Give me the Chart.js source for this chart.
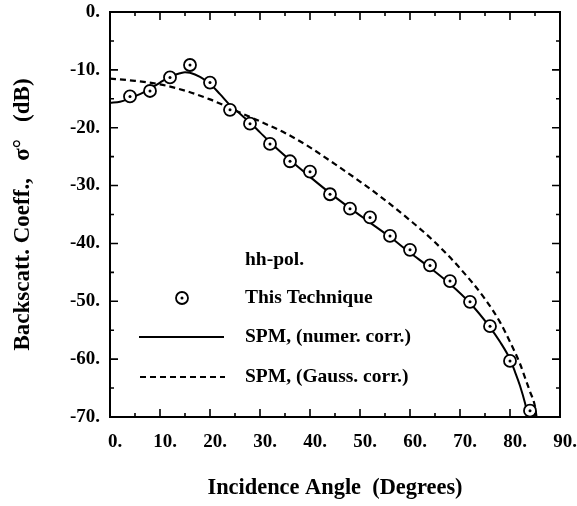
<!DOCTYPE html>
<html>
<head>
<meta charset="utf-8">
<script src="https://cdn.jsdelivr.net/npm/chart.js@4.4.0/dist/chart.umd.min.js"></script>
<style>
  html, body { margin: 0; padding: 0; background: #fff; }
</style>
</head>
<body>
<canvas id="backscatterChart" width="577" height="506"></canvas>
<script>
// values (hh-pol.)
const techAngles = [4, 8, 12, 16, 20, 24, 28, 32, 36, 40, 44, 48, 52, 56, 60, 64, 68, 72, 76, 80, 84];
const techValues = [-14.6, -13.65, -11.3, -9.16, -12.2, -16.9, -19.3, -22.8, -25.8, -27.6, -31.5,
                    -34.0, -35.5, -38.7, -41.1, -43.8, -46.5, -50.1, -54.3, -60.3, -68.9];

const numerAngles = [0, 2, 4, 6, 8, 10, 12, 14, 15, 16, 18, 20, 22, 24, 26, 28, 30, 32, 36, 40,
                     44, 48, 52, 56, 60, 64, 68, 72, 76, 78, 80, 81, 82, 83, 83.6];
const numerValues = [-15.7, -15.5, -14.9, -14.2, -13.3, -12.2, -11.2, -10.6, -10.4, -10.5, -11.2,
                     -12.4, -14.2, -16.1, -17.6, -19.1, -20.8, -22.5, -25.6, -28.5, -31.3, -33.9,
                     -36.4, -38.9, -41.6, -44.2, -47.0, -50.3, -54.5, -57.0, -60.0, -62.2, -64.6,
                     -67.6, -70];

const gaussAngles = [0, 5, 10, 15, 20, 25, 30, 35, 40, 45, 50, 55, 60, 65, 70, 75, 78, 80, 82,
                     83, 84, 85, 85.3];
const gaussValues = [-11.5, -11.9, -12.5, -13.6, -15.1, -17.0, -18.9, -20.9, -23.4, -26.3, -29.3,
                     -32.5, -36.0, -39.8, -44.3, -49.6, -53.6, -57.0, -60.8, -63.2, -65.6, -68.2, -70];

const xMin = 0, xMax = 90, xStep = 10;
const yMin = -70, yMax = 0, yStep = 10;
const minorStep = 5;

const legendLabels = ['hh-pol.', 'This Technique', 'SPM, (numer. corr.)', 'SPM, (Gauss. corr.)'];

const toPoints = (xs, ys) => xs.map((v, i) => ({ x: v, y: ys[i] }));

const serif = '"Liberation Serif", "Times New Roman", serif';
Chart.defaults.font.family = serif;
Chart.defaults.color = '#000';

// box + inward ticks on all four sides
const frameTicks = {
  id: 'frameTicks',
  afterDraw(chart) {
    const { ctx, chartArea: a, scales: { x, y } } = chart;
    ctx.save();
    ctx.strokeStyle = '#000';
    ctx.lineWidth = 2;
    ctx.strokeRect(a.left, a.top, a.right - a.left, a.bottom - a.top);
    ctx.lineWidth = 1.6;
    ctx.beginPath();
    for (let v = xMin; v <= xMax; v += minorStep) {
      const px = x.getPixelForValue(v);
      const len = v % xStep === 0 ? 8 : 4;
      ctx.moveTo(px, a.bottom); ctx.lineTo(px, a.bottom - len);
      ctx.moveTo(px, a.top); ctx.lineTo(px, a.top + len);
    }
    for (let v = yMin; v <= yMax; v += minorStep) {
      const py = y.getPixelForValue(v);
      const len = v % yStep === 0 ? 8 : 4;
      ctx.moveTo(a.left, py); ctx.lineTo(a.left + len, py);
      ctx.moveTo(a.right, py); ctx.lineTo(a.right - len, py);
    }
    ctx.stroke();
    ctx.restore();
  }
};

// legend written inside the plot, as in the figure
const innerLegend = {
  id: 'innerLegend',
  afterDraw(chart) {
    const ctx = chart.ctx;
    const textX = 245;
    const rows = [260, 298, 337, 377];
    ctx.save();
    ctx.fillStyle = '#000';
    ctx.strokeStyle = '#000';
    ctx.font = 'bold 19.5px ' + serif;
    ctx.textBaseline = 'middle';
    ctx.textAlign = 'left';
    legendLabels.forEach((t, i) => ctx.fillText(t, textX, rows[i]));

    // circle marker
    ctx.lineWidth = 1.8;
    ctx.beginPath();
    ctx.arc(182, rows[1], 6, 0, Math.PI * 2);
    ctx.stroke();
    ctx.beginPath();
    ctx.arc(182, rows[1], 1.5, 0, Math.PI * 2);
    ctx.fill();

    // solid
    ctx.lineWidth = 2;
    ctx.beginPath();
    ctx.moveTo(139, rows[2]); ctx.lineTo(224, rows[2]);
    ctx.stroke();
    // dashed
    ctx.setLineDash([6, 4]);
    ctx.beginPath();
    ctx.moveTo(140, rows[3]); ctx.lineTo(225, rows[3]);
    ctx.stroke();
    ctx.restore();
  }
};

const ctx = document.getElementById('backscatterChart').getContext('2d');
const backscatterChart = new Chart(ctx, {
  type: 'scatter',
  data: {
    datasets: [
      {
        label: 'This Technique (dot)',
        data: toPoints(techAngles, techValues),
        pointRadius: 1.5,
        pointBackgroundColor: '#000',
        pointBorderWidth: 0,
        clip: false,
        order: 1
      },
      {
        label: 'This Technique',
        data: toPoints(techAngles, techValues),
        pointRadius: 6,
        pointBorderWidth: 1.8,
        pointBorderColor: '#000',
        pointBackgroundColor: '#fff',
        clip: false,
        order: 2
      },
      {
        label: 'SPM, (numer. corr.)',
        data: toPoints(numerAngles, numerValues),
        showLine: true,
        borderColor: '#000',
        borderWidth: 2,
        pointRadius: 0,
        cubicInterpolationMode: 'monotone',
        order: 3
      },
      {
        label: 'SPM, (Gauss. corr.)',
        data: toPoints(gaussAngles, gaussValues),
        showLine: true,
        borderColor: '#000',
        borderWidth: 2.2,
        borderDash: [6, 4],
        pointRadius: 0,
        cubicInterpolationMode: 'monotone',
        order: 4
      }
    ]
  },
  options: {
    responsive: false,
    animation: false,
    events: [],
    layout: { padding: { left: 0, right: 17, top: 12, bottom: 0 } },
    plugins: {
      legend: { display: false },
      tooltip: { enabled: false }
    },
    scales: {
      x: {
        type: 'linear',
        min: xMin,
        max: xMax,
        grid: { display: false, drawTicks: false },
        border: { display: false },
        ticks: {
          stepSize: xStep,
          autoSkip: false,
          maxRotation: 0,
          padding: 14,
          labelOffset: 5,
          font: { size: 19, weight: 'bold' },
          callback: v => v + '.'
        },
        title: {
          display: true,
          text: 'Incidence Angle  (Degrees)',
          font: { size: 22.4, weight: 'bold' },
          padding: { top: 0, bottom: 4 }
        },
        afterFit: s => {
          s.height = 89;
          s.paddingLeft = 0;
          s.paddingRight = 0;
        }
      },
      y: {
        type: 'linear',
        min: yMin,
        max: yMax,
        grid: { display: false, drawTicks: false },
        border: { display: false },
        ticks: {
          stepSize: yStep,
          padding: 10,
          font: { size: 19, weight: 'bold' },
          callback: v => v + '.'
        },
        title: {
          display: true,
          text: 'Backscatt. Coeff.,   σ°   (dB)',
          font: { size: 23, weight: 'bold' },
          padding: { top: 9, bottom: 0 }
        },
        afterFit: s => {
          s.width = 110;
          s.paddingTop = 0;
          s.paddingBottom = 0;
        }
      }
    }
  },
  plugins: [frameTicks, innerLegend]
});
</script>
</body>
</html>
